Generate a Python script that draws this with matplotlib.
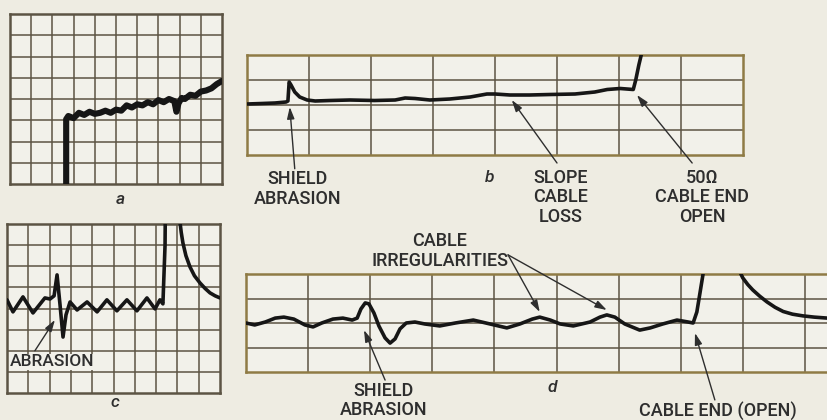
import matplotlib.pyplot as plt

# traces, in grid divisions (x = horizontal divisions, y = vertical divisions)
a_x = [2.65, 2.65, 2.75, 3.0, 3.25, 3.5, 3.75, 4.0, 4.25, 4.5, 4.75, 5.0, 5.25, 5.5, 5.75,
       6.0, 6.25, 6.5, 6.75, 7.0, 7.25, 7.5, 7.75, 7.85, 7.95, 8.1, 8.25, 8.5, 8.75,
       9.0, 9.25, 9.5, 9.75, 10.0]
a_y = [0.0, 3.05, 3.2, 3.1, 3.35, 3.25, 3.4, 3.3, 3.35, 3.45, 3.35, 3.5, 3.45, 3.7, 3.6,
       3.75, 3.7, 3.85, 3.75, 3.95, 3.85, 4.0, 3.9, 3.4, 3.8, 4.05, 4.0, 4.2, 4.15,
       4.35, 4.4, 4.5, 4.7, 4.85]

b_x = [0.0, 0.24, 0.45, 0.63, 0.66, 0.68, 0.71, 0.77, 0.85, 0.97, 1.1, 1.34, 1.66, 2.06,
       2.39, 2.55, 2.71, 2.95, 3.27, 3.6, 3.87, 4.0, 4.24, 4.56, 4.89, 5.29, 5.61, 5.81,
       6.02, 6.23, 6.27, 6.32, 6.37]
b_y = [2.04, 2.06, 2.08, 2.12, 2.16, 2.92, 2.8, 2.52, 2.32, 2.2, 2.16, 2.18, 2.2, 2.18,
       2.2, 2.28, 2.26, 2.2, 2.24, 2.32, 2.44, 2.44, 2.4, 2.4, 2.42, 2.44, 2.52, 2.62,
       2.66, 2.62, 3.0, 3.6, 4.12]

c_x = [0.0, 0.28, 0.75, 1.22, 1.78, 2.02, 2.21, 2.35, 2.49, 2.63, 2.77, 2.96, 3.29, 3.76,
       4.23, 4.69, 5.16, 5.63, 6.1, 6.57, 6.95, 7.18, 7.32, 7.42, 7.43]
c_y = [4.41, 3.84, 4.55, 3.79, 4.5, 4.45, 4.6, 5.59, 4.17, 2.65, 3.7, 4.31, 3.93, 4.31,
       3.84, 4.41, 3.89, 4.41, 3.89, 4.5, 3.98, 4.41, 4.22, 7.0, 8.2]
c_tail_x = [8.12, 8.18, 8.26, 8.4, 8.59, 8.8, 9.06, 9.3, 9.53, 9.77, 10.0]
c_tail_y = [8.1, 7.6, 7.1, 6.5, 5.97, 5.55, 5.21, 4.95, 4.74, 4.6, 4.5]

d_x = [0.0, 0.14, 0.31, 0.47, 0.61, 0.77, 0.95, 1.08, 1.22, 1.4, 1.56, 1.71, 1.79, 1.85,
       1.92, 1.98, 2.06, 2.14, 2.24, 2.32, 2.4, 2.48, 2.58, 2.72, 2.88, 3.12, 3.37, 3.66,
       3.93, 4.2, 4.41, 4.61, 4.73, 4.9, 5.06, 5.27, 5.54, 5.7, 5.81, 5.94, 6.1, 6.34,
       6.51, 6.71, 6.94, 7.12, 7.2, 7.26, 7.31, 7.36, 7.38]
d_y = [2.0, 1.92, 2.04, 2.2, 2.24, 2.16, 1.92, 1.84, 2.0, 2.16, 2.2, 2.12, 2.2, 2.57,
       2.82, 2.78, 2.41, 1.88, 1.39, 1.18, 1.35, 1.76, 2.0, 2.04, 1.96, 1.88, 2.0, 2.12,
       1.96, 1.8, 1.96, 2.16, 2.24, 2.12, 1.96, 1.88, 2.04, 2.24, 2.33, 2.24, 1.96, 1.71,
       1.8, 1.96, 2.12, 2.04, 2.0, 2.45, 3.22, 4.0, 4.24]
d_tail_x = [7.95, 8.0, 8.08, 8.16, 8.27, 8.39, 8.52, 8.65, 8.8, 8.97, 9.15, 9.36]
d_tail_y = [4.1, 3.84, 3.57, 3.35, 3.1, 2.86, 2.64, 2.47, 2.36, 2.29, 2.24, 2.2]

BG = '#eeece2'
CELL = '#f2f1ea'
GRID = '#5c5444'
GOLD = '#8f7b45'
INK = '#161616'
TXT = '#2e2e2e'
FONT = ['Roboto', 'DejaVu Sans']

plt.rcParams['font.family'] = FONT
plt.rcParams['font.weight'] = 'medium'

W, H = 827, 420
fig = plt.figure(figsize=(W / 100, H / 100), dpi=100, facecolor=BG)


def panel(x0, y0, x1, y1, ncols, nrows, xmax, edge, right_spine=True):
    ax = fig.add_axes([x0 / W, 1 - y1 / H, (x1 - x0) / W, (y1 - y0) / H])
    ax.set_facecolor(CELL)
    ax.set_xlim(0, xmax)
    ax.set_ylim(0, nrows)
    ax.set_xticks(range(1, ncols))
    ax.set_yticks(range(1, nrows))
    ax.grid(True, color=GRID, lw=1.1)
    ax.tick_params(length=0, labelbottom=False, labelleft=False)
    for name, sp in ax.spines.items():
        sp.set_color(edge)
        sp.set_linewidth(1.8)
    if not right_spine:
        ax.spines['right'].set_visible(False)
    return ax


def trace(ax, xs, ys, lw=2.6):
    ax.plot(xs, ys, color=INK, lw=lw, solid_joinstyle='round', solid_capstyle='round', zorder=3)


def label(ax, x, y, s, **kw):
    opts = dict(ha='center', va='top', fontsize=13, color=TXT, linespacing=1.12)
    opts.update(kw)
    ax.text(x, y, s, **opts)


def arrow(ax, tail, tip):
    ax.annotate('', xy=tip, xytext=tail, annotation_clip=False,
                arrowprops=dict(arrowstyle='-|>,head_length=0.7,head_width=0.22',
                                color=TXT, lw=1.0, shrinkA=0, shrinkB=0))


# panel a
ax_a = panel(10, 14, 222, 184, 10, 8, 10, GRID)
trace(ax_a, a_x, a_y, lw=4.4)
label(ax_a, 5.19, -0.75, 'a', va='center', style='italic', fontsize=12.5)

# panel b
ax_b = panel(247, 55, 743, 155, 8, 4, 8, GOLD)
trace(ax_b, b_x, b_y)
label(ax_b, 0.81, -0.62, 'SHIELD\nABRASION')
arrow(ax_b, (0.77, -0.55), (0.69, 1.92))
label(ax_b, 3.92, -0.6, 'b', style='italic', fontsize=12.5)
label(ax_b, 5.06, -0.55, 'SLOPE\nCABLE\nLOSS')
arrow(ax_b, (5.0, -0.32), (4.27, 2.2))
label(ax_b, 7.34, -0.55, '50Ω\nCABLE END\nOPEN')
arrow(ax_b, (7.18, -0.32), (6.29, 2.4))

# panel c
ax_c = panel(7, 224, 220, 393, 10, 8, 10, GRID)
trace(ax_c, c_x, c_y)
trace(ax_c, c_tail_x, c_tail_y)
ax_c.text(0.12, 1.47, 'ABRASION', ha='left', va='center', fontsize=12.5, color=TXT,
          bbox=dict(boxstyle='square,pad=0.05', fc=CELL, ec='none'), zorder=4)
arrow(ax_c, (1.31, 2.0), (2.25, 3.46))
label(ax_c, 5.07, -0.43, 'c', va='center', style='italic', fontsize=12.5)

# panel d
ax_d = panel(246, 274, 827, 372, 10, 4, 581 / 62.1, GOLD, right_spine=False)
trace(ax_d, d_x, d_y)
trace(ax_d, d_tail_x, d_tail_y)
label(ax_d, 3.12, 5.7, 'CABLE\nIRREGULARITIES')
arrow(ax_d, (4.22, 4.78), (4.73, 2.45))
arrow(ax_d, (4.22, 4.78), (5.81, 2.53))
label(ax_d, 2.21, -1.9, 'SHIELD\nABRASION', va='bottom', linespacing=1.02)
arrow(ax_d, (2.24, -0.33), (1.9, 1.71))
label(ax_d, 4.93, -0.65, 'd', va='center', style='italic', fontsize=12.5)
label(ax_d, 7.6, -1.63, 'CABLE END (OPEN)', va='center')
arrow(ax_d, (7.55, -1.14), (7.23, 1.59))

fig.savefig('out.png', dpi=100, facecolor=BG)
plt.close(fig)
